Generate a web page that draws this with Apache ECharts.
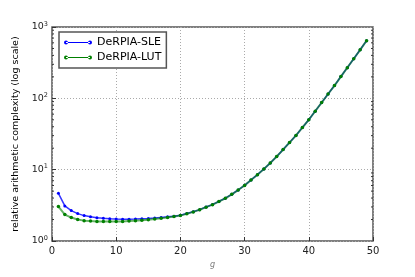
<!DOCTYPE html>
<html><head><meta charset="utf-8">
<script src="https://cdn.jsdelivr.net/npm/echarts@6/dist/echarts.min.js"></script>
<style>html,body{margin:0;padding:0;background:#fff}#c{width:415px;height:277px}</style>
</head><body><div id="c"></div>
<script>
var gValues = [1,2,3,4,5,6,7,8,9,10,11,12,13,14,15,16,17,18,19,20,21,22,23,24,25,26,27,28,29,30,31,32,33,34,35,36,37,38,39,40,41,42,43,44,45,46,47,48,49];
var sleValues = [4.66,3.1,2.67,2.42,2.27,2.18,2.12,2.08,2.05,2.03,2.02,2.02,2.03,2.05,2.07,2.1,2.14,2.18,2.23,2.29,2.43,2.57,2.75,2.99,3.24,3.59,3.98,4.52,5.19,6.03,7.16,8.51,10.2,12.4,15.3,19.1,24.0,30.2,38.9,50.1,66.1,87.1,115,151,202,269,359,479,643];
var lutValues = [3.04,2.35,2.13,2.0,1.93,1.9,1.88,1.87,1.87,1.87,1.88,1.9,1.92,1.95,1.99,2.03,2.08,2.13,2.2,2.27,2.41,2.56,2.74,2.98,3.23,3.58,3.97,4.51,5.18,6.02,7.15,8.5,10.2,12.4,15.3,19.1,24.0,30.2,38.9,50.1,66.1,87.1,115,151,202,269,359,479,643];
var yTickLabels = {1:'0',10:'1',100:'2',1000:'3'};
var yMinorTicks = [2,3,4,5,6,7,8,9,20,30,40,50,60,70,80,90,200,300,400,500,600,700,800,900];

function pairs(xs, ys){ return xs.map(function(x,i){return [x, ys[i]];}); }

var chart = echarts.init(document.getElementById('c'), null, {renderer:'canvas'});
var font = 'DejaVu Sans';
var legendIcon = 'path://M0,2a2,2 0 1,0 4,0a2,2 0 1,0 -4,0ZM2,1.4L26,1.4L26,2.6L2,2.6ZM24,2a2,2 0 1,0 4,0a2,2 0 1,0 -4,0Z';
chart.setOption({
  animation:false,
  grid:{left:52,right:42,top:27,bottom:36,show:true,borderColor:'#555',borderWidth:1.5},
  legend:{
    left:59, top:32, orient:'vertical', itemGap:4, itemWidth:28, itemHeight:4,
    padding:[5,5,5,5],
    borderColor:'#555', borderWidth:1.5, backgroundColor:'#fff',
    textStyle:{fontFamily:font,fontSize:11,color:'#000'},
    data:[{name:'DeRPIA-SLE',icon:legendIcon},{name:'DeRPIA-LUT',icon:legendIcon}]
  },
  xAxis:{
    type:'value', min:0, max:50, interval:10,
    name:'g', nameLocation:'middle', nameGap:17,
    nameTextStyle:{fontFamily:font,fontSize:8,fontStyle:'italic',color:'#777'},
    axisLine:{show:false},
    axisTick:{show:true,inside:true,length:4,lineStyle:{color:'#333'}},
    axisLabel:{fontFamily:font,fontSize:10,color:'#222',margin:5},
    splitLine:{show:true,lineStyle:{color:'#aaa',type:[1,2],width:1}}
  },
  yAxis:{
    type:'log', logBase:10, min:1, max:1000,
    name:'relative arithmetic complexity (log scale)', nameLocation:'middle', nameGap:26,
    nameTextStyle:{fontFamily:font,fontSize:9.5,color:'#000'},
    axisLine:{show:false},
    axisTick:{show:true,inside:true,length:4,lineStyle:{color:'#333'}},
    axisLabel:{margin:4,formatter:function(v){var k=Math.round(v);return '{b|10}{s|'+(yTickLabels[k]||'')+'}';},
      rich:{b:{fontFamily:font,fontSize:9.5,color:'#222'},s:{fontFamily:font,fontSize:6.5,color:'#222',verticalAlign:'top',padding:[0,0,6,0]}}},
    splitLine:{show:true,lineStyle:{color:'#aaa',type:[1,2],width:1}}
  },
  series:[
    {type:'custom',silent:true,data:yMinorTicks.map(function(v){return [0,v];}),
      renderItem:function(params,api){
        var p0 = api.coord([0, api.value(1)]);
        var p1 = api.coord([50, api.value(1)]);
        return {type:'group',children:[
          {type:'line',shape:{x1:p0[0],y1:p0[1],x2:p0[0]+2,y2:p0[1]},style:{stroke:'#333',lineWidth:1}},
          {type:'line',shape:{x1:p1[0]-2,y1:p1[1],x2:p1[0],y2:p1[1]},style:{stroke:'#333',lineWidth:1}}
        ]};
      }},
    {name:'DeRPIA-SLE',type:'line',data:pairs(gValues,sleValues),symbol:'circle',symbolSize:3,
      lineStyle:{color:'#0000ff',width:1.5,opacity:0.8},itemStyle:{color:'#0000ff'}},
    {name:'DeRPIA-LUT',type:'line',data:pairs(gValues,lutValues),symbol:'circle',symbolSize:3.5,
      lineStyle:{color:'#008000',width:2,opacity:0.6},itemStyle:{color:'#008000'}}
  ]
});
</script></body></html>
